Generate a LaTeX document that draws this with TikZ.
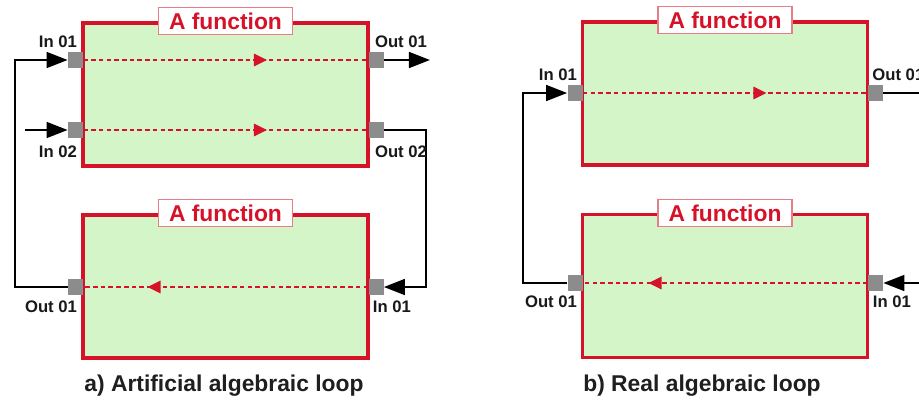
\documentclass[tikz,border=0pt]{standalone}
\usepackage{fontspec}
\setmainfont{Liberation Sans}
\usetikzlibrary{arrows.meta,decorations.markings}

\definecolor{fred}{RGB}{214,18,40}
\definecolor{fgreen}{RGB}{212,245,200}
\definecolor{pgray}{RGB}{140,140,140}

\tikzset{
  fbox/.style={draw=fred, line width=1.8pt, fill=fgreen, minimum width=5.7cm, minimum height=2.86cm, inner sep=0pt},
  ftitle/.style={draw=fred!55, line width=0.6pt, fill=white, text=fred, font=\bfseries\fontsize{13}{15}\selectfont, minimum height=0.54cm, inner xsep=6pt, inner ysep=1pt},
  port/.style={fill=pgray, minimum width=0.3cm, minimum height=0.32cm, inner sep=0pt},
  plabel/.style={font=\bfseries\fontsize{9.5}{11}\selectfont, text=black!90, inner sep=0pt},
  caption/.style={font=\bfseries\fontsize{13}{15}\selectfont, text=black!88},
  wire/.style={line width=1.3pt, -{Triangle[length=12pt,width=9pt]}},
  flow/.style={fred, line width=1.3pt, dash pattern=on 2.6pt off 1.8pt, postaction={decorate},
    decoration={markings, mark=at position #1 with {\arrow{Triangle[length=7.5pt,width=7pt]}}}},
}

\begin{document}
\begin{tikzpicture}[x=0.02cm, y=-0.02cm]
  \fill[white] (0,0) rectangle (919,403);
  \clip (0,0) rectangle (919,403);

  % a) artificial loop
  \node[fbox] (fA) at (225.5,94.5) {};
  \node[fbox] (fB) at (225.5,286.5) {};
  \node[ftitle] (tA) at (fA.north) {A function};
  \node[ftitle] (tB) at (fB.north) {A function};

  \node[port] (pAi1) at (75.5,60) {};
  \node[port] (pAi2) at (75.5,130) {};
  \node[port] (pAo1) at (376,60) {};
  \node[port] (pAo2) at (376,130) {};
  \node[port] (pBo) at (75.5,287) {};
  \node[port] (pBi) at (376,287) {};

  \draw[flow=0.645] (pAi1.east) -- (pAo1.west);
  \draw[flow=0.645] (pAi2.east) -- (pAo2.west);
  \draw[flow=0.775] (pBi.west) -- (pBo.east);

  \coordinate (lpA) at (15,0);
  \coordinate (lpB) at (426,0);
  \coordinate (inA) at (25,130);
  \coordinate (outA) at (430,60);
  \draw[wire] (pBo.west) -- (pBo.west -| lpA) |- (pAi1.west);
  \draw[wire] (inA) -- (pAi2.west);
  \draw[wire] (pAo1.east) -- (outA);
  \draw[wire] (pAo2.east) -- (pAo2.east -| lpB) |- (pBi.east);

  \node[plabel] (lAi1) at (58,42) {In 01};
  \node[plabel] (lAi2) at (58,152) {In 02};
  \node[plabel] (lAo1) at (401,42) {Out 01};
  \node[plabel] (lAo2) at (401,152) {Out 02};
  \node[plabel] (lBo) at (51,307) {Out 01};
  \node[plabel] (lBi) at (392,307) {In 01};

  \node[caption] (capA) at (224,386) {a) Artificial algebraic loop};

  % b) real loop
  \node[fbox] (fC) at (725,93.5) {};
  \node[fbox] (fD) at (725,286) {};
  \node[ftitle] (tC) at (fC.north) {A function};
  \node[ftitle] (tD) at (fD.north) {A function};

  \node[port] (pCi) at (575,93) {};
  \node[port] (pCo) at (875.5,93) {};
  \node[port] (pDo) at (575,283) {};
  \node[port] (pDi) at (875.5,283) {};

  \draw[flow=0.645] (pCi.east) -- (pCo.west);
  \draw[flow=0.77] (pDi.west) -- (pDo.east);

  \coordinate (lpC) at (523,0);
  \coordinate (lpD) at (945,0);
  \draw[wire] (pDo.west) -- (pDo.west -| lpC) |- (pCi.west);
  \draw[wire] (pCo.east) -- (pCo.east -| lpD) |- (pDi.east);

  \node[plabel] (lCi) at (558,75) {In 01};
  \node[plabel, anchor=west] (lCo) at (872,75) {Out 01};
  \node[plabel] (lDo) at (551,302) {Out 01};
  \node[plabel] (lDi) at (892,302) {In 01};

  \node[caption] (capB) at (702,386) {b) Real algebraic loop};
\end{tikzpicture}
\end{document}
